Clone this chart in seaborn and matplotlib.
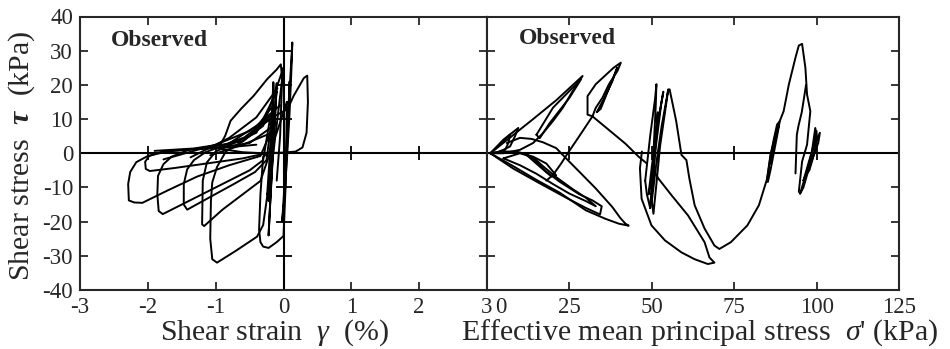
import matplotlib
matplotlib.use("Agg")
import matplotlib.pyplot as plt
import pandas as pd
import seaborn as sns

# ---------------- axis ticks ----------------
strain_ticks = [-3, -2, -1, 0, 1, 2, 3]
stress_ticks = [-40, -30, -20, -10, 0, 10, 20, 30, 40]
pmean_ticks = [25, 50, 75, 100, 125]
strain_cross = [-2, -1, 1, 2]
stress_cross = [-30, -20, -10, 10, 20, 30]
pmean_cross = [25, 50, 75, 100]

# ---------------- shear strain (%) vs shear stress (kPa) ----------------
loop_a_strain = [-0.15, -0.5, -0.9, -1.3, -1.7, -2.0, -2.17, -2.26, -2.29, -2.28, -2.2, -2.08, -1.7, -1.27, -0.8, -0.34, -0.15]
loop_a_tau = [8.0, 3.0, 1.8, 1.2, 0.6, -0.8, -2.6, -5.5, -9.0, -13.8, -14.4, -14.5, -10.8, -6.8, -3.5, -0.8, 8.0]

loop_b_strain = [-0.4, -0.9, -1.4, -1.8, -1.98, -2.04, -2.03, -1.97, -1.6, -1.1, -0.6, -0.3]
loop_b_tau = [2.5, 1.6, 1.1, 0.4, -0.8, -2.5, -4.6, -5.2, -4.3, -2.9, -1.5, -0.2]

loop_c_strain = [-0.2, -0.6, -1.0, -1.4, -1.65, -1.77, -1.85, -1.86, -1.84, -1.78, -1.4, -0.95, -0.5, -0.3, -0.2]
loop_c_tau = [10.0, 3.5, 2.2, 1.0, -1.0, -3.2, -6.6, -12.0, -16.9, -17.8, -14.0, -9.5, -5.0, -2.0, 10.0]

loop_d_strain = [-0.15, -0.5, -0.85, -1.15, -1.32, -1.42, -1.47, -1.47, -1.42, -1.1, -0.75, -0.42, -0.25, -0.15]
loop_d_tau = [14.0, 5.0, 2.5, 0.3, -2.0, -4.7, -9.0, -15.0, -16.5, -13.0, -9.2, -5.5, -2.0, 14.0]

loop_e_strain = [-0.1, -0.4, -0.75, -1.0, -1.13, -1.19, -1.2, -1.17, -0.9, -0.6, -0.34, -0.2, -0.1]
loop_e_tau = [18.0, 6.0, 2.8, 0.5, -2.7, -8.0, -20.8, -21.3, -16.5, -12.0, -8.1, 0.0, 18.0]

loop_f_strain = [0.0, -0.3, -0.6, -0.85, -0.98, -1.05, -1.07, -1.08, -1.05, -0.98, -0.7, -0.39, -0.3, -0.24, -0.15, 0.0]
loop_f_tau = [25.0, 8.0, 3.5, 0.5, -4.0, -8.5, -14.0, -25.0, -31.0, -32.0, -28.5, -24.4, -21.0, -12.5, 0.0, 25.0]

loop_g_strain = [0.05, -0.1, -0.22, -0.3, -0.34, -0.36, -0.34, -0.3, -0.22, -0.1, 0.0, 0.03, 0.05]
loop_g_tau = [15.0, 6.0, 0.0, -1.0, -12.0, -22.3, -26.0, -27.3, -27.7, -26.0, -24.2, -10.0, 15.0]

loop_p_strain = [-1.0, -0.58, -0.24, 0.06, 0.15, 0.3, 0.35, 0.36, 0.34, 0.28, 0.18, 0.0, -0.3, -0.6, -1.0]
loop_p_tau = [1.5, 4.6, 9.7, 12.9, 16.8, 22.0, 22.7, 15.0, 6.0, 1.7, 0.5, 0.2, 0.0, 0.3, 1.5]

loop_s_strain = [-1.9, -1.32, -0.93, -0.86, -0.78, -0.63, -0.44, -0.24, -0.1, -0.04, -0.02, -0.05, -0.1]
loop_s_tau = [0.7, 1.4, 2.6, 5.1, 9.5, 12.9, 16.8, 21.7, 24.5, 26.0, 22.0, 5.0, -8.0]

fan_1_strain = [-1.77, -1.0, -0.5, -0.12]
fan_1_tau = [-1.8, 2.5, 6.5, 11.9]
fan_2_strain = [-1.37, -0.8, -0.4, -0.09]
fan_2_tau = [-1.2, 4.5, 10.5, 19.0]
fan_3_strain = [-1.08, -0.6, -0.17]
fan_3_tau = [-0.6, 2.5, 6.0]
fan_4_strain = [-0.8, -0.4, -0.05]
fan_4_tau = [2.9, 8.0, 14.0]

spike_1_strain = [-0.24, -0.2, -0.17, -0.15, -0.14, -0.16, -0.19, -0.22, -0.24]
spike_1_tau = [-12.0, 0.0, 12.0, 20.8, 18.0, 6.0, -6.0, -14.0, -12.0]
spike_2_strain = [-0.22, -0.18, -0.13, -0.1, -0.12, -0.16, -0.2, -0.22]
spike_2_tau = [-24.0, -8.0, 10.0, 20.5, 12.0, -2.0, -16.0, -24.0]
spike_3_strain = [-0.02, 0.02, 0.06, 0.1, 0.13, 0.12, 0.09, 0.05, 0.01, -0.02]
spike_3_tau = [-20.0, -8.0, 8.0, 22.0, 32.4, 26.0, 12.0, -2.0, -14.0, -20.0]
spike_4_strain = [0.02, 0.05, 0.08, 0.09, 0.07, 0.04, 0.02]
spike_4_tau = [-12.0, 4.0, 16.0, 21.0, 8.0, -4.0, -12.0]

# ---------------- effective mean principal stress (kPa) vs shear stress ----------------
wedge_1_p = [1.0, 7, 14, 21, 29, 26, 23, 20, 17, 14, 10, 5, 1.0]
wedge_1_tau = [0.0, 4.6, 10.0, 15.5, 22.6, 18.2, 13.3, 9.4, 5.9, 3.0, 1.0, 0.0, 0.0]
wedge_1_in_p = [15, 20, 26, 28.5, 25, 19, 16, 15]
wedge_1_in_tau = [5.4, 13.3, 19.2, 21.6, 16.2, 8.8, 4.4, 5.4]
wedge_s1_p = [1.0, 5, 9.5, 8.5, 7, 5, 3, 1.0]
wedge_s1_tau = [0.0, 4.0, 7.4, 5.0, 2.0, 1.0, 0.3, 0.0]
wedge_s2_p = [1.0, 4, 7, 6.5, 5.5, 3, 1.0]
wedge_s2_tau = [0.0, 2.5, 5.5, 3.0, 1.0, 0.2, 0.0]

wedge_2_p = [32, 30.5, 30.5, 33, 38.4, 40.6, 39.6, 37, 35, 33, 32]
wedge_2_tau = [10.8, 11.3, 16.7, 20.2, 25.0, 26.5, 24.1, 20.2, 16.2, 13.3, 10.8]
wedge_2_in_p = [39.5, 37, 34.5, 33.3, 35.5, 38, 39.5]
wedge_2_in_tau = [25.0, 19.0, 13.0, 12.0, 16.0, 21.0, 25.0]

cross_p = [18, 20, 22.5, 24.5, 28, 32]
cross_tau = [-8.0, -6.4, -3.0, 0.0, 5.0, 10.8]
diag_p = [32, 37, 42, 46, 48.5]
diag_tau = [10.8, 6.8, 2.8, -1.0, -3.0]

lobe_1_p = [1.0, 8, 15, 22, 30, 36, 40, 43, 42, 40.5, 38, 33, 28, 24, 21, 17, 13.5, 10, 6]
lobe_1_tau = [0.0, -3.8, -7.8, -11.5, -16.7, -19.2, -20.6, -21.2, -20.6, -19.0, -15.7, -10.3, -5.4, -1.5, 1.5, 3.2, 4.2, 4.5, 3.0]
lobe_2_p = [1.0, 8, 16, 24, 30, 34.3, 34.8, 32, 28, 22, 18, 15, 12.5, 9, 5, 1.0]
lobe_2_tau = [0.0, -4.5, -8.8, -13.0, -16.0, -17.9, -15.5, -13.8, -12.0, -8.3, -5.4, -2.5, -0.5, 0.5, 0.5, 0.0]
lobe_3_p = [5, 10, 15, 20, 25, 30, 33, 30, 26, 21, 17, 14, 10, 5]
lobe_3_tau = [-1.5, -3.5, -6.0, -9.0, -11.8, -14.0, -15.5, -13.0, -10.5, -7.0, -3.8, -1.2, 0.0, -1.5]
lobe_4_p = [12, 16, 19.5, 21, 18, 14, 12]
lobe_4_tau = [-0.5, -3.9, -6.8, -6.5, -3.0, -1.0, -0.5]

band_1_p = [48, 49.5, 51, 51.4, 51.2, 50.5, 50, 49.5, 48.5, 48]
band_1_tau = [-8.0, 5.0, 16.0, 20.2, 14.0, 0.0, -10.0, -16.0, -12.0, -8.0]
band_2_p = [50, 51.5, 53, 54.5, 55, 54, 52.5, 51.5, 50.5, 50]
band_2_tau = [-14.0, -2.0, 8.0, 16.0, 18.7, 12.0, 2.0, -8.0, -17.7, -14.0]
band_3_p = [49, 50.5, 52, 53.5, 52.8, 51.5, 50, 49]
band_3_tau = [-12.0, 0.0, 10.0, 18.0, 14.0, 4.0, -8.0, -12.0]
band_4_p = [49.5, 50.3, 51.2, 51.8, 51.0, 50.2, 49.5]
band_4_tau = [-16.0, -6.0, 6.0, 12.0, 0.0, -10.0, -16.0]

outer_p = [47, 46.4, 46.9, 49.9, 54, 59, 63, 67, 69, 67.5, 66, 61, 56, 52, 50]
outer_tau = [0.5, -4.4, -13.3, -21.1, -25.5, -29.0, -31.0, -32.4, -32.0, -30.5, -26.0, -18.2, -12.3, -7.4, -4.0]

u_path_p = [55.4, 57.4, 59, 60.5, 61.4, 63, 66, 69, 70.5, 74, 79, 82.5, 85, 86, 88, 90, 91.6, 93.6,
            94.6, 95.6, 96.6, 97.1, 98.1, 97.6, 97.1, 95.6, 94.6]
u_path_tau = [18.7, 9.4, -0.5, -2.0, -7.4, -15.2, -22.0, -27.0, -28.0, -26.0, -21.1, -15.2, -7.4, -0.5, 7.4, 12.3, 20.2, 28.0,
              31.5, 32.0, 25.0, 17.2, 12.3, 7.4, 2.5, -2.4, -11.3]
branch_p = [96.8, 95.5, 94.5, 94, 93.6]
branch_tau = [20.0, 12.0, 8.0, 5.4, -5.9]

band_87a_p = [85, 86, 87, 88, 88.8, 88.2, 87, 86, 85.2]
band_87a_tau = [-7.4, -1.0, 4.0, 8.4, 9.3, 6.0, 0.0, -5.0, -8.4]
band_87b_p = [86, 87, 88.5, 87.5, 86.2]
band_87b_tau = [-3.0, 2.0, 8.0, 4.0, -3.0]

band_100a_p = [95, 96.5, 98, 99.5, 101, 100.5, 99, 97.5, 96, 95]
band_100a_tau = [-11.8, -7.0, -2.0, 3.0, 6.0, 3.0, -1.0, -5.0, -10.0, -11.8]
band_100b_p = [96, 97.5, 99, 100, 99.8, 98.5, 97, 96]
band_100b_tau = [-8.0, -3.0, 2.0, 6.5, 2.0, -2.0, -6.0, -8.0]
band_100c_p = [97, 98.5, 99.6, 100.2, 99, 97.8, 97]
band_100c_tau = [-6.0, 0.0, 7.4, 4.0, -1.0, -5.0, -6.0]

# ---------------- styling ----------------
sns.set_style("ticks")
plt.rcParams["font.family"] = ["Liberation Serif", "DejaVu Serif"]
plt.rcParams["mathtext.fontset"] = "custom"
plt.rcParams["mathtext.rm"] = "Liberation Serif"
plt.rcParams["mathtext.it"] = "Liberation Serif:italic"
plt.rcParams["mathtext.bf"] = "Liberation Serif:bold"
plt.rcParams["mathtext.bfit"] = "Liberation Serif:italic:bold"
plt.rcParams["axes.unicode_minus"] = False

LW = 1.4
SPINE_W = 1.5
TICK_FS = 16.5
LABEL_FS = 21.5

fig = plt.figure(figsize=(9.5, 3.49), dpi=100)
W, H = 950.0, 349.0
ax_l = fig.add_axes([80 / W, 1 - 290 / H, (487 - 80) / W, (290 - 16.5) / H])
ax_r = fig.add_axes([487 / W, 1 - 290 / H, (899 - 487) / W, (290 - 16.5) / H], sharey=ax_l)


def trace(ax, xs, ys):
    df = pd.DataFrame({"x": xs, "y": ys})
    sns.lineplot(data=df, x="x", y="y", sort=False, estimator=None,
                 color="black", lw=LW, ax=ax)


left_curves = [
    (loop_a_strain, loop_a_tau), (loop_b_strain, loop_b_tau), (loop_c_strain, loop_c_tau),
    (loop_d_strain, loop_d_tau), (loop_e_strain, loop_e_tau), (loop_f_strain, loop_f_tau),
    (loop_g_strain, loop_g_tau), (loop_p_strain, loop_p_tau), (loop_s_strain, loop_s_tau),
    (fan_1_strain, fan_1_tau), (fan_2_strain, fan_2_tau), (fan_3_strain, fan_3_tau),
    (fan_4_strain, fan_4_tau), (spike_1_strain, spike_1_tau), (spike_2_strain, spike_2_tau),
    (spike_3_strain, spike_3_tau), (spike_4_strain, spike_4_tau),
]
right_curves = [
    (wedge_1_p, wedge_1_tau), (wedge_1_in_p, wedge_1_in_tau), (wedge_s1_p, wedge_s1_tau),
    (wedge_s2_p, wedge_s2_tau), (wedge_2_p, wedge_2_tau), (wedge_2_in_p, wedge_2_in_tau),
    (cross_p, cross_tau), (diag_p, diag_tau), (lobe_1_p, lobe_1_tau), (lobe_2_p, lobe_2_tau),
    (lobe_3_p, lobe_3_tau), (lobe_4_p, lobe_4_tau), (band_1_p, band_1_tau), (band_2_p, band_2_tau),
    (band_3_p, band_3_tau), (band_4_p, band_4_tau), (outer_p, outer_tau), (u_path_p, u_path_tau),
    (branch_p, branch_tau), (band_87a_p, band_87a_tau), (band_87b_p, band_87b_tau),
    (band_100a_p, band_100a_tau), (band_100b_p, band_100b_tau), (band_100c_p, band_100c_tau),
]
for xs, ys in left_curves:
    trace(ax_l, xs, ys)
for xs, ys in right_curves:
    trace(ax_r, xs, ys)

# zero reference lines with their cross ticks
ax_l.axhline(0, color="black", lw=SPINE_W)
ax_l.axvline(0, color="black", lw=SPINE_W)
ax_r.axhline(0, color="black", lw=SPINE_W)
ax_l.plot([0] * len(stress_cross), stress_cross, ls="none", marker="_", ms=11, mew=1.3, color="black")
ax_l.plot(strain_cross, [0] * len(strain_cross), ls="none", marker="|", ms=9.5, mew=1.3, color="black")
ax_r.plot(pmean_cross, [0] * len(pmean_cross), ls="none", marker="|", ms=9.5, mew=1.3, color="black")

ax_l.set_xlim(-3, 3)
ax_l.set_ylim(-40, 40)
ax_r.set_xlim(0, 125)
ax_l.set_xticks(strain_ticks)
ax_l.set_xticklabels([str(v) for v in strain_ticks])
ax_l.set_yticks(stress_ticks)
ax_l.set_yticklabels([str(v) for v in stress_ticks])
ax_r.set_xticks(pmean_ticks)
ax_r.set_xticklabels([str(v) for v in pmean_ticks])

for ax in (ax_l, ax_r):
    ax.set_xlabel("")
    ax.set_ylabel("")
    for sp in ax.spines.values():
        sp.set_visible(True)
        sp.set_linewidth(SPINE_W)
    ax.tick_params(direction="in", length=6, width=1.3, top=True, bottom=True,
                   left=True, right=True, labelsize=TICK_FS, pad=5)
ax_r.tick_params(labelleft=False)

# left tick label of the stress-path panel sits just right of the shared spine
ax_r.annotate("0", xy=(0, 0), xycoords=("data", "axes fraction"), xytext=(10, -5),
              textcoords="offset points", ha="center", va="top", fontsize=TICK_FS)

ax_l.text(0.077, 0.914, "Observed", transform=ax_l.transAxes, fontsize=17,
          fontweight="bold", ha="left", va="center")
ax_r.text(0.078, 0.92, "Observed", transform=ax_r.transAxes, fontsize=17,
          fontweight="bold", ha="left", va="center")

fig.text(160 / W, 1 - 340 / H, "Shear strain  $\\gamma$  (%)", ha="left", va="baseline", fontsize=LABEL_FS)
fig.text(461 / W, 1 - 340 / H, "Effective mean principal stress  $\\sigma$' (kPa)",
         ha="left", va="baseline", fontsize=LABEL_FS)
fig.text(22 / W, 1 - 155.5 / H, "Shear stress  $\\mathbfit{\\tau}$  (kPa)", rotation=90,
         ha="center", va="center", fontsize=LABEL_FS)

fig.savefig("out.png", dpi=100)
